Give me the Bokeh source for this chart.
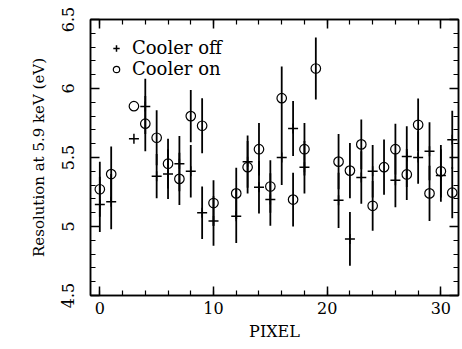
import numpy as np
from bokeh.plotting import figure
from bokeh.models import (LinearAxis, Legend, LegendItem, ColumnDataSource, Range1d,
                          SingleIntervalTicker)
from bokeh.embed import file_html
from bokeh.resources import INLINE

nan = float("nan")

# ---- data ----
pixel = [0, 1, 3, 4, 5, 6, 7, 8, 9, 10, 12, 13, 14, 15, 16, 17, 18, 19,
         21, 22, 23, 24, 25, 26, 27, 28, 29, 30, 31]
cooler_off = [5.16, 5.18, 5.635, 5.87, 5.365, 5.38, 5.455, 5.40, 5.10, 5.04,
              5.075, 5.47, 5.285, 5.195, 5.50, 5.71, 5.43, nan,
              5.19, 4.91, 5.355, 5.40, nan, 5.335, 5.507, 5.50, 5.545, 5.37, 5.628]
cooler_off_err = [0.20, 0.20, 0.0, 0.20, 0.16, 0.18, 0.20, 0.19, 0.19, 0.18,
                  0.195, 0.19, 0.19, 0.19, 0.20, 0.20, 0.19, nan,
                  0.20, 0.195, 0.19, 0.19, nan, 0.195, 0.22, 0.19, 0.21, 0.19, 0.21]
cooler_on = [5.27, 5.38, 5.872, 5.745, 5.643, 5.455, 5.345, 5.80, 5.73, 5.17,
             5.24, 5.43, 5.56, 5.29, 5.93, 5.195, 5.56, 6.145,
             5.47, 5.405, 5.595, 5.15, 5.43, 5.56, 5.377, 5.737, 5.24, 5.40, 5.245]
cooler_on_err = [0.20, 0.20, 0.0, 0.20, 0.20, 0.18, 0.19, 0.19, 0.20, 0.165,
                 0.185, 0.19, 0.19, 0.19, 0.23, 0.195, 0.19, 0.225,
                 0.20, 0.20, 0.18, 0.18, 0.20, 0.185, 0.185, 0.19, 0.20, 0.19, 0.185]

x_label = "PIXEL"
y_label = "Resolution at 5.9 keV (eV)"
series_names = ["Cooler off", "Cooler on"]

FONT = "DejaVu Serif"

px = np.array(pixel, dtype=float)
off = np.array(cooler_off, dtype=float)
offe = np.array(cooler_off_err, dtype=float)
on = np.array(cooler_on, dtype=float)
one = np.array(cooler_on_err, dtype=float)

src_off = ColumnDataSource(dict(x=px, y=off, lo=off - offe, hi=off + offe))
src_on = ColumnDataSource(dict(x=px, y=on, lo=on - one, hi=on + one))

p = figure(width=462, height=349,
           x_range=Range1d(-0.82, 31.55), y_range=Range1d(4.5, 6.5),
           output_backend="svg", toolbar_location=None,
           min_border_left=90, min_border_right=4,
           min_border_top=19, min_border_bottom=54)
p.background_fill_color = "white"
p.border_fill_color = "white"
p.outline_line_color = "black"
p.outline_line_width = 1.5
p.xgrid.visible = False
p.ygrid.visible = False

# error bars
p.segment(x0="x", y0="lo", x1="x", y1="hi", source=src_off,
          line_color="black", line_width=1.8)
p.segment(x0="x", y0="lo", x1="x", y1="hi", source=src_on,
          line_color="black", line_width=1.8)

r_off = p.scatter("x", "y", source=src_off, marker="cross", size=10,
                  line_color="black", line_width=1.5)
r_on = p.scatter("x", "y", source=src_on, marker="circle", size=9.5,
                 line_color="black", fill_color="white", fill_alpha=0,
                 line_width=1.2)

xt = SingleIntervalTicker(interval=10, num_minor_ticks=5)
yt = SingleIntervalTicker(interval=0.5, num_minor_ticks=5)

def style_axis(ax, labels=True):
    ax.axis_line_color = "black"
    ax.axis_line_width = 1.5
    ax.major_tick_in = 9
    ax.major_tick_out = 0
    ax.minor_tick_in = 5
    ax.minor_tick_out = 0
    ax.major_tick_line_color = "black"
    ax.minor_tick_line_color = "black"
    ax.major_tick_line_width = 1.5
    ax.minor_tick_line_width = 1.2
    ax.major_label_text_font = FONT
    ax.major_label_text_font_size = "16px"
    ax.major_label_text_color = "black"
    ax.axis_label_text_font = FONT
    ax.axis_label_text_font_size = "15px"
    ax.axis_label_text_font_style = "normal"
    ax.axis_label_text_color = "black"
    if not labels:
        ax.major_label_text_font_size = "0px"
        ax.major_label_text_alpha = 0

xa = p.xaxis[0]
xa.ticker = xt
xa.axis_label = x_label
xa.axis_label_standoff = 5
xa.major_label_standoff = 6
style_axis(xa)
xa.axis_label_text_font_size = "16px"

ya = p.yaxis[0]
ya.ticker = yt
ya.axis_label = y_label
ya.major_label_orientation = "parallel"
ya.major_label_standoff = 17
ya.axis_label_standoff = 11
style_axis(ya)

top = LinearAxis(ticker=SingleIntervalTicker(interval=10, num_minor_ticks=5))
style_axis(top, labels=False)
p.add_layout(top, "above")
right = LinearAxis(ticker=SingleIntervalTicker(interval=0.5, num_minor_ticks=5))
style_axis(right, labels=False)
p.add_layout(right, "right")

legend = Legend(items=[LegendItem(label=series_names[0], renderers=[r_off]),
                       LegendItem(label=series_names[1], renderers=[r_on])],
                location="top_left")
legend.margin = 0
legend.padding = 18
legend.glyph_width = 16
legend.glyph_height = 18
legend.label_height = 18
legend.label_standoff = 8
legend.spacing = 0
legend.label_text_font = FONT
legend.label_text_font_size = "18px"
legend.label_text_color = "black"
legend.border_line_alpha = 0
legend.background_fill_alpha = 0
p.add_layout(legend)

open("out.html", "w").write(file_html(p, INLINE))
